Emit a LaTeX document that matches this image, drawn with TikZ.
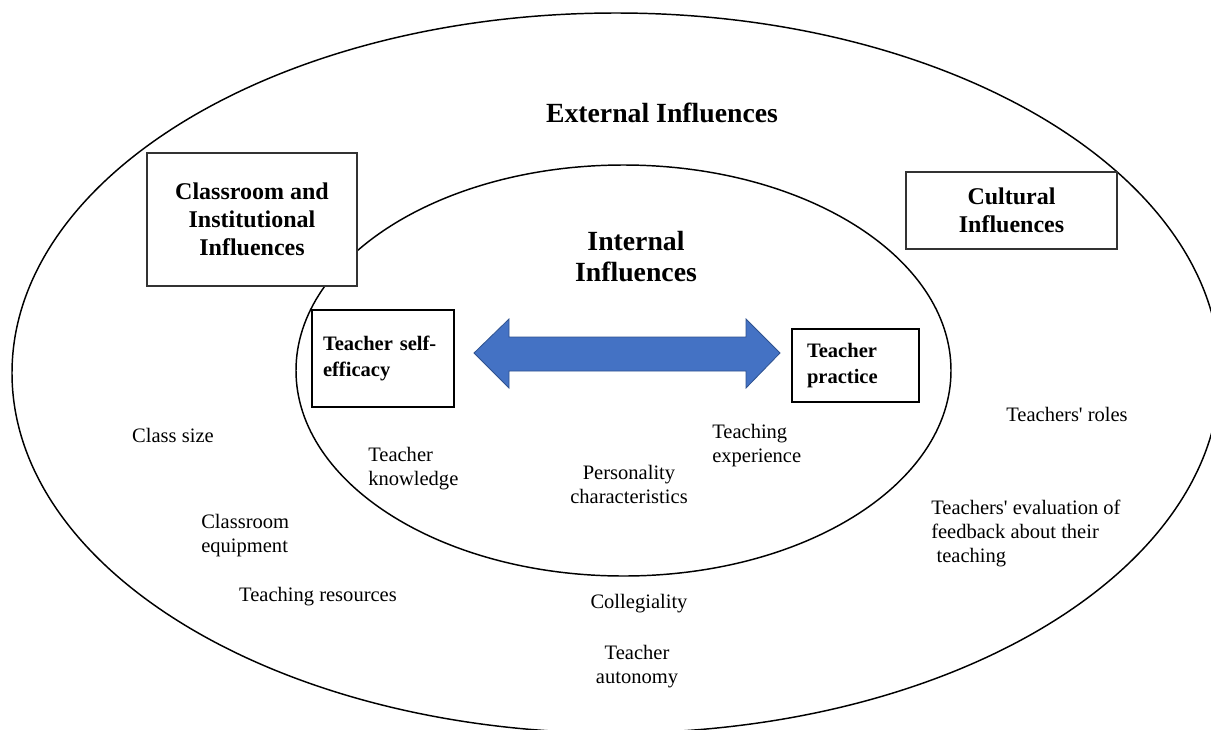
\documentclass[tikz,border=0pt]{standalone}
\usepackage{fontspec}
\setmainfont{Liberation Serif}
\usetikzlibrary{shapes.geometric}
\definecolor{arrowblue}{HTML}{4472C4}
\definecolor{arrowedge}{HTML}{2F528F}
\begin{document}
\begin{tikzpicture}[x=0.75pt,y=-0.75pt,
  ring/.style={ellipse, draw=black, line width=1.1pt, inner sep=0pt},
  bigbox/.style={draw=black!80, line width=0.9pt, fill=white, align=center,
    font=\fontsize{18}{21}\selectfont\bfseries},
  smallbox/.style={draw=black, line width=1.1pt, fill=white, align=left,
    font=\fontsize{15.4}{19}\selectfont\bfseries},
  title/.style={inner sep=0pt, align=center, font=\fontsize{20.8}{23.3}\selectfont\bfseries},
  item/.style={inner sep=0pt, font=\fontsize{15.4}{18}\selectfont}
]
\useasboundingbox (0,0) rectangle (1211,729);
\clip (0,0) rectangle (1211,729);
\fill[white] (0,0) rectangle (1211,729);

% ellipses
\node[ring, minimum width=906pt, minimum height=540pt] (outer) at (616,373) {};
\node[ring, minimum width=491.25pt, minimum height=308.25pt] (inner) at (623.5,370.5) {};

% titles
\node[title] (ext) at (662,113) {External Influences};
\node[title] (int) at (636,257) {Internal\\Influences};

% boxes
\node[bigbox, minimum width=157.5pt, minimum height=99.75pt] (classbox) at (252,219.5)
  {Classroom and\\Institutional\\Influences};
\node[bigbox, minimum width=158.25pt, minimum height=57.75pt] (cultbox) at (1011.5,210.5)
  {Cultural\\Influences};
\node[smallbox, text width=90pt, inner xsep=8.25pt, minimum height=72.75pt] (selfeff) at (383,358.5)
  {Teacher self-\\efficacy};
\node[smallbox, text width=72.75pt, inner xsep=11.25pt, minimum height=54.75pt] (practice) at (855.5,365.5)
  {Teacher\\practice};

% double arrow
\filldraw[fill=arrowblue, draw=arrowedge, line width=0.6pt, line join=miter]
  (474,353) -- (509,319) -- (509,337) -- (746,337) -- (746,319) -- (780,353)
  -- (746,388) -- (746,371) -- (509,371) -- (509,388) -- cycle;

% items
\node[item] (classsize) at (173,435) {Class size};
\node[item, anchor=west, align=left] (equip) at (201,536) {Classroom\\equipment};
\node[item] (resources) at (318,597) {Teaching resources};
\node[item, anchor=west, align=left] (knowledge) at (368,469) {Teacher\\knowledge};
\node[item, align=center] (personality) at (629,484) {Personality\\characteristics};
\node[item, anchor=west, align=left] (experience) at (712,446) {Teaching\\experience};
\node[item] (collegiality) at (639,604) {Collegiality};
\node[item, align=center] (autonomy) at (637,667) {Teacher\\autonomy};
\node[item] (roles) at (1067,414) {Teachers\textquotesingle{} roles};
\node[item, anchor=west, align=left] (feedback) at (931,533)
  {Teachers\textquotesingle{} evaluation of\\feedback about their\\\hspace*{4pt}teaching};
\end{tikzpicture}
\end{document}
